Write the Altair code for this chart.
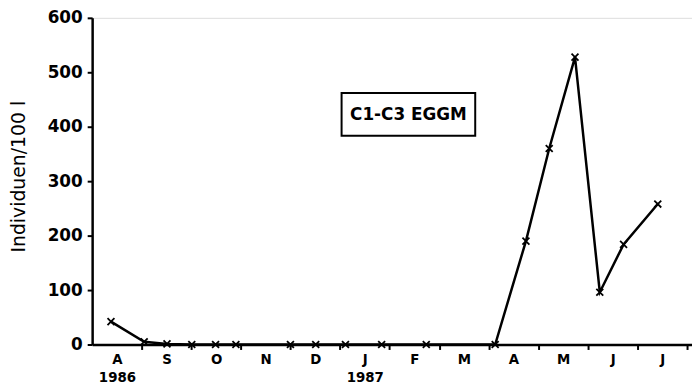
import altair as alt
import pandas as pd

# months since 1 Aug 1986
sample_month = [0.38, 1.05, 1.51, 2.01, 2.49, 2.90, 4.00, 4.51, 5.11, 5.84, 6.74,
                8.13, 8.75, 9.22, 9.74, 10.24, 10.72, 11.41]
individuals = [42, 5, 1, 0, 0, 0, 0, 0, 0, 0, 0,
               0, 190, 360, 528, 96, 184, 258]

month_letters = ["A", "S", "O", "N", "D", "J", "F", "M", "A", "M", "J", "J"]
year_labels = ["1986", "", "", "", "", "1987", "", "", "", "", "", ""]
y_ticks = [0, 100, 200, 300, 400, 500, 600]
legend_label = "C1-C3 EGGM"

df = pd.DataFrame({"month": sample_month, "value": individuals})

W, H = 606, 330
x_max = 12.1
per_month = W / x_max

label_arrays = []
for m, yr in zip(month_letters, year_labels):
    if yr:
        label_arrays.append("['%s','%s']" % (m, yr))
    else:
        label_arrays.append("['%s']" % m)
label_expr = "[" + ",".join(label_arrays) + "][round(datum.value) - 1]"

x_enc = alt.X(
    "month:Q",
    scale=alt.Scale(domain=[0, x_max], nice=False, zero=False),
    axis=alt.Axis(
        values=list(range(1, 13)),
        labelExpr=label_expr,
        labelOffset=-per_month / 2,
        tickSize=5,
        tickWidth=2,
        tickColor="black",
        domainColor="black",
        domainWidth=2.5,
        labelFont="DejaVu Sans Condensed",
        labelFontWeight="bold",
        labelFontSize=15,
        labelColor="black",
        labelLineHeight=18,
        labelPadding=2,
        labelBaseline="top",
        labelOverlap=False,
        grid=False,
        title=None,
    ),
)

y_enc = alt.Y(
    "value:Q",
    scale=alt.Scale(domain=[0, 600], nice=False),
    axis=alt.Axis(
        values=y_ticks,
        tickSize=5,
        tickWidth=2,
        tickColor="black",
        domainColor="black",
        domainWidth=2.5,
        labelFont="DejaVu Sans",
        labelFontWeight="bold",
        labelFontSize=17,
        labelColor="black",
        labelPadding=5,
        grid=False,
        title="Individuen/100 l",
        titleFont="DejaVu Sans",
        titleFontWeight="normal",
        titleFontSize=19,
        titleColor="black",
        titleAngle=-90,
        titleX=-74,
        titleY=160,
        titleAlign="center",
        titleBaseline="middle",
    ),
)

line = alt.Chart(df).mark_line(color="black", strokeWidth=2.5).encode(x=x_enc, y=y_enc)
points = alt.Chart(df).mark_point(
    shape="M-1,-1L1,1M1,-1L-1,1", size=49, filled=False, color="black", strokeWidth=1.8, opacity=1
).encode(x="month:Q", y="value:Q")

box_df = pd.DataFrame({"label": [legend_label]})
box = alt.Chart(box_df).mark_rect(fill="white", stroke="black", strokeWidth=2).encode(
    x=alt.value(252), x2=alt.value(387), y=alt.value(76), y2=alt.value(119)
)
box_text = alt.Chart(box_df).mark_text(
    font="DejaVu Sans", fontWeight="bold", fontSize=17, color="black",
    align="center", baseline="middle"
).encode(x=alt.value(319.5), y=alt.value(98), text="label:N")

chart = alt.layer(line, points, box, box_text).properties(
    width=W, height=H,
    autosize=alt.AutoSizeParams(type="none"),
    padding={"left": 85, "top": 8, "right": 0, "bottom": 42},
).configure_view(stroke=None).configure(background="white")

chart.save("out.html", embed_options={"renderer": "svg", "actions": False})
